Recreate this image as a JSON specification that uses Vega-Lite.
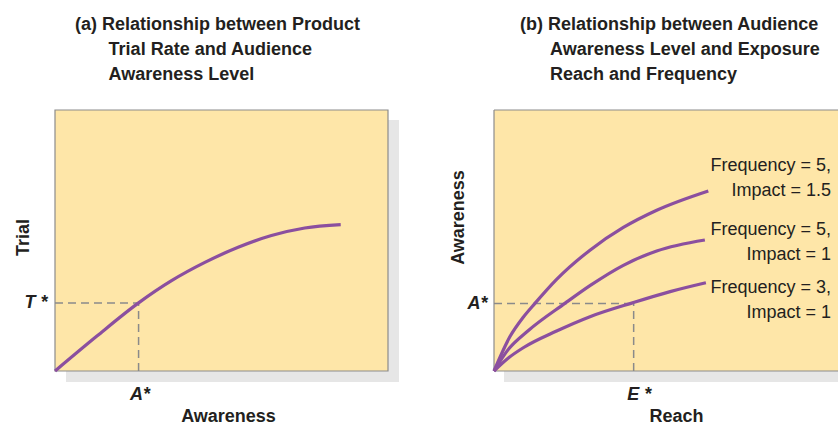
{
  "$schema": "https://vega.github.io/schema/vega-lite/v6.json",
  "padding": {"left": 14, "top": 16, "right": 0, "bottom": 0},
  "background": "white",
  "spacing": 50,
  "config": {
    "view": {"stroke": null},
    "font": "Liberation Sans",
    "title": {"font": "Liberation Sans", "fontSize": 18, "fontWeight": "bold", "color": "#231f20", "anchor": "start", "frame": "group", "lineHeight": 25, "offset": 25},
    "axis": {"domain": false, "ticks": false, "tickSize": 0, "grid": false, "labelFont": "Liberation Sans", "labelFontSize": 18, "labelFontWeight": "bold", "labelFontStyle": "italic", "labelColor": "#231f20", "titleFont": "Liberation Sans", "titleFontSize": 18, "titleFontWeight": "bold", "titleColor": "#231f20"}
  },
  "datasets": {
    "leftShadow": [{"x": 3.3, "x2": 103.3, "y": -4.2, "y2": 96.2}],
    "leftFrame": [{"x": 0, "x2": 100, "y": 0, "y2": 100}],
    "leftGuides": [{"x": 0, "x2": 25.1, "y": 26.1, "y2": 26.1}, {"x": 25.1, "x2": 25.1, "y": 0, "y2": 26.1}],
    "leftCurve": [
      {"x": 0, "y": 0}, {"x": 12.5, "y": 13.3}, {"x": 25.1, "y": 26.1}, {"x": 35, "y": 34.6},
      {"x": 45, "y": 41.6}, {"x": 55, "y": 47.4}, {"x": 65, "y": 51.9}, {"x": 75, "y": 54.8},
      {"x": 85.8, "y": 56.1}
    ],
    "rightShadow": [{"x": 2.9, "x2": 100, "y": -4.2, "y2": 50}],
    "rightFrame": [{"x": 0, "x2": 100, "y": 0, "y2": 100}],
    "rightBorder": [{"x": 0, "x2": 0, "y": 0, "y2": 100}, {"x": 0, "x2": 100, "y": 100, "y2": 100}, {"x": 0, "x2": 100, "y": 0, "y2": 0}],
    "rightGuides": [{"x": 0, "x2": 40.6, "y": 25.9, "y2": 25.9}, {"x": 40.6, "x2": 40.6, "y": 0, "y2": 25.9}],
    "rightCurves": [
      {"series": "f5i15", "x": 0, "y": 0}, {"series": "f5i15", "x": 4.65, "y": 13.2}, {"series": "f5i15", "x": 8.5, "y": 20.6},
      {"series": "f5i15", "x": 11.9, "y": 25.9}, {"series": "f5i15", "x": 18.2, "y": 35.1}, {"series": "f5i15", "x": 27.9, "y": 46.3},
      {"series": "f5i15", "x": 37.6, "y": 55.0}, {"series": "f5i15", "x": 47.3, "y": 61.6}, {"series": "f5i15", "x": 62.3, "y": 69.0},
      {"series": "f5i1", "x": 0, "y": 0}, {"series": "f5i1", "x": 4, "y": 8.0}, {"series": "f5i1", "x": 10, "y": 15.5},
      {"series": "f5i1", "x": 20.6, "y": 25.9}, {"series": "f5i1", "x": 28, "y": 32.8}, {"series": "f5i1", "x": 37.6, "y": 40.5},
      {"series": "f5i1", "x": 47.3, "y": 46.0}, {"series": "f5i1", "x": 61.3, "y": 50.2},
      {"series": "f3i1", "x": 0, "y": 0}, {"series": "f3i1", "x": 4, "y": 4.8}, {"series": "f3i1", "x": 8.5, "y": 8.9}, {"series": "f3i1", "x": 18.2, "y": 15.3},
      {"series": "f3i1", "x": 27.9, "y": 20.8}, {"series": "f3i1", "x": 40.5, "y": 26.2}, {"series": "f3i1", "x": 51.2, "y": 30.4},
      {"series": "f3i1", "x": 61.6, "y": 33.8}
    ],
    "rightLabels": [
      {"x": 98, "y": 78.4, "label": "Frequency = 5,\nImpact = 1.5"},
      {"x": 98, "y": 53.9, "label": "Frequency = 5,\nImpact = 1"},
      {"x": 98, "y": 31.8, "label": "Frequency = 3,\nImpact = 1"}
    ]
  },
  "hconcat": [
    {
      "width": 333,
      "height": 261,
      "title": {"text": ["(a) Relationship between Product", "\u200b\u00a0\u00a0\u00a0\u00a0\u00a0\u00a0\u2009Trial Rate and Audience", "\u200b\u00a0\u00a0\u00a0\u00a0\u00a0\u00a0\u2009Awareness Level"], "dx": 20},
      "encoding": {
        "x": {"field": "x", "type": "quantitative", "scale": {"domain": [0, 100], "nice": false, "zero": false},
              "axis": {"values": [25.1], "labelExpr": "'A*'", "labelBaseline": "alphabetic", "labelPadding": 28, "labelOffset": 1, "title": "Awareness", "titleX": 173, "titleY": 50, "titleBaseline": "alphabetic"}},
        "y": {"field": "y", "type": "quantitative", "scale": {"domain": [0, 100], "nice": false, "zero": false},
              "axis": {"values": [26.1], "labelExpr": "'T *'", "labelPadding": 8, "title": "Trial", "titleX": -27, "titleY": 127, "titleBaseline": "alphabetic", "titleAngle": -90}}
      },
      "layer": [
        {"data": {"name": "leftShadow"}, "mark": {"type": "rect", "fill": "#e6e6e6"}, "encoding": {"x2": {"field": "x2"}, "y2": {"field": "y2"}}},
        {"data": {"name": "leftFrame"}, "mark": {"type": "rect", "fill": "#fee6a8", "stroke": "#8c8c8c", "strokeWidth": 1.2}, "encoding": {"x2": {"field": "x2"}, "y2": {"field": "y2"}}},
        {"data": {"name": "leftGuides"}, "mark": {"type": "rule", "color": "#8a8a8a", "strokeWidth": 1.5, "strokeDash": [8, 5]}, "encoding": {"x2": {"field": "x2"}, "y2": {"field": "y2"}}},
        {"data": {"name": "leftCurve"}, "mark": {"type": "line", "color": "#8b4f9f", "strokeWidth": 3.2, "interpolate": "monotone"}, "encoding": {}}
      ]
    },
    {
      "width": 344,
      "height": 261,
      "title": {"text": ["(b) Relationship between Audience", "\u200b\u00a0\u00a0\u00a0\u00a0\u00a0\u00a0Awareness Level and Exposure", "\u200b\u00a0\u00a0\u00a0\u00a0\u00a0\u00a0Reach and Frequency"], "dx": 26},
      "encoding": {
        "x": {"field": "x", "type": "quantitative", "scale": {"domain": [0, 100], "nice": false, "zero": false},
              "axis": {"values": [40.6], "labelExpr": "'E *'", "labelBaseline": "alphabetic", "labelPadding": 28, "labelOffset": 5, "title": "Reach", "titleX": 182, "titleY": 50, "titleBaseline": "alphabetic"}},
        "y": {"field": "y", "type": "quantitative", "scale": {"domain": [0, 100], "nice": false, "zero": false},
              "axis": {"values": [25.9], "labelExpr": "'A*'", "labelPadding": 7, "title": "Awareness", "titleX": -31, "titleY": 107, "titleBaseline": "alphabetic", "titleAngle": -90}}
      },
      "layer": [
        {"data": {"name": "rightShadow"}, "mark": {"type": "rect", "fill": "#e6e6e6"}, "encoding": {"x2": {"field": "x2"}, "y2": {"field": "y2"}}},
        {"data": {"name": "rightFrame"}, "mark": {"type": "rect", "fill": "#fee6a8"}, "encoding": {"x2": {"field": "x2"}, "y2": {"field": "y2"}}},
        {"data": {"name": "rightBorder"}, "mark": {"type": "rule", "color": "#8c8c8c", "strokeWidth": 1.2}, "encoding": {"x2": {"field": "x2"}, "y2": {"field": "y2"}}},
        {"data": {"name": "rightGuides"}, "mark": {"type": "rule", "color": "#8a8a8a", "strokeWidth": 1.5, "strokeDash": [8, 5]}, "encoding": {"x2": {"field": "x2"}, "y2": {"field": "y2"}}},
        {"data": {"name": "rightCurves"}, "mark": {"type": "line", "color": "#8b4f9f", "strokeWidth": 3.2, "interpolate": "monotone"}, "encoding": {"detail": {"field": "series"}}},
        {"data": {"name": "rightLabels"}, "mark": {"type": "text", "align": "right", "baseline": "middle", "lineBreak": "\n", "lineHeight": 25, "fontSize": 18, "font": "Liberation Sans", "color": "#231f20"}, "encoding": {"text": {"field": "label"}}}
      ]
    }
  ]
}
